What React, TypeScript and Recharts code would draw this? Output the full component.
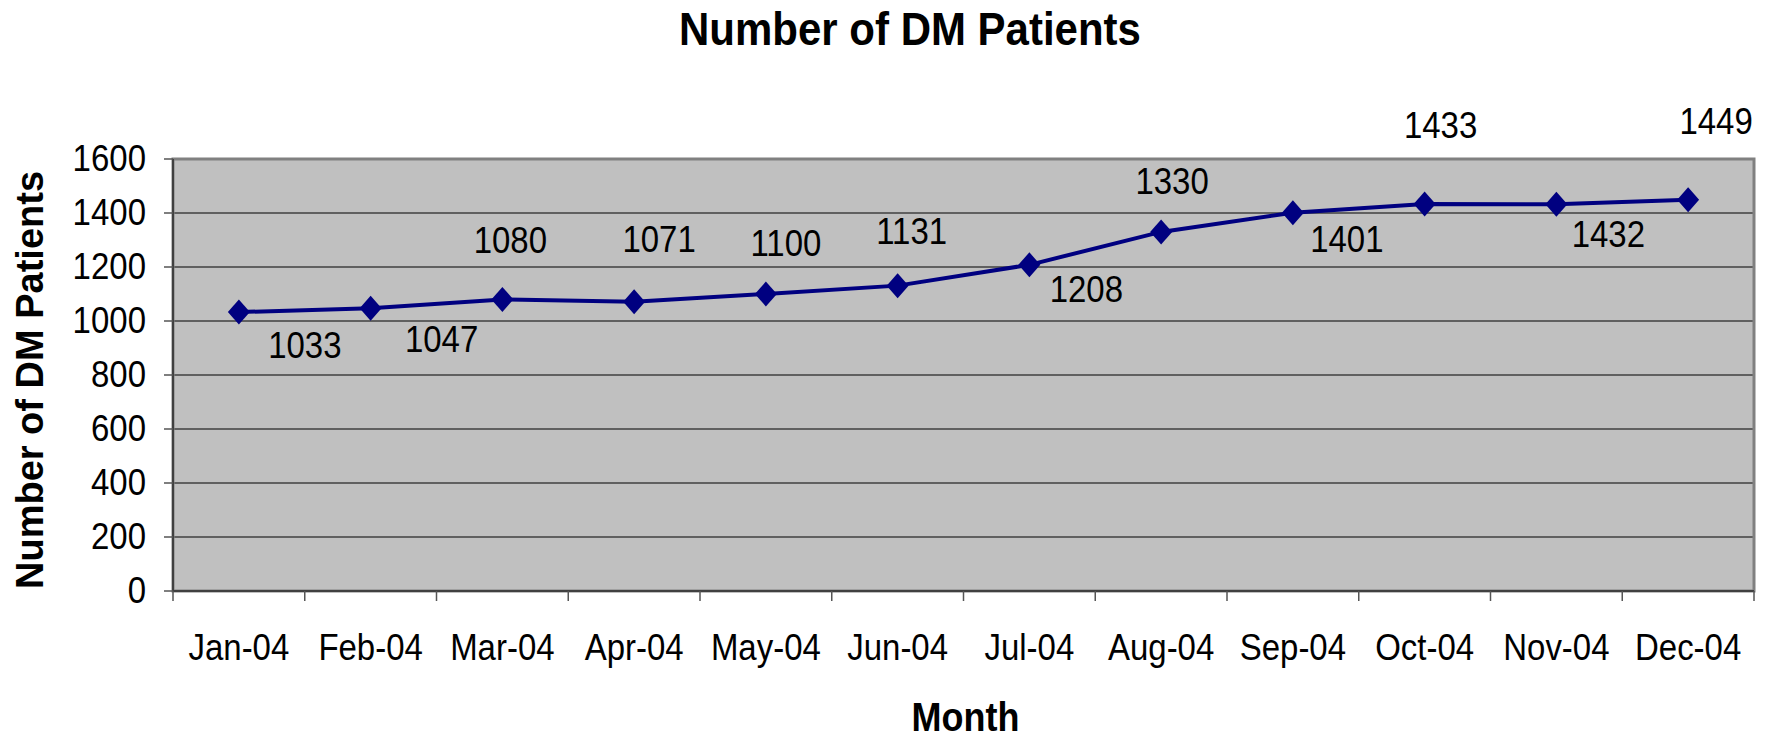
import { LineChart, Line, XAxis, YAxis, CartesianGrid, ReferenceArea, LabelList, Label } from "recharts";

const months = ["Jan-04", "Feb-04", "Mar-04", "Apr-04", "May-04", "Jun-04", "Jul-04", "Aug-04", "Sep-04", "Oct-04", "Nov-04", "Dec-04"];
const patients = [1033, 1047, 1080, 1071, 1100, 1131, 1208, 1330, 1401, 1433, 1432, 1449];
const yTicks = [0, 200, 400, 600, 800, 1000, 1200, 1400, 1600];

const FONT = "'Liberation Sans', Arial, Helvetica, sans-serif";
const NAVY = "#000080";
const STRETCH = 1.12;

// where each value label sits relative to its point (Excel placed them by hand)
const labelNudge = [
  [66, 46], [71, 44], [8, -46], [25, -50], [20, -38], [14, -42],
  [57, 37], [11, -38], [54, 39], [16, -66], [52, 43], [28, -66],
];

const data = months.map((m, i) => ({ idx: i, month: m, value: patients[i] }));

const xTicks: number[] = [];
for (let i = 0; i <= months.length * 2; i++) xTicks.push(i / 2 - 0.5);

function StretchText({ x, y, size, bold, anchor, children }: any) {
  return (
    <text
      transform={`translate(${x},${y}) scale(1,${STRETCH})`}
      x={0}
      y={0}
      textAnchor={anchor || "middle"}
      fontFamily={FONT}
      fontSize={size}
      fontWeight={bold ? "bold" : "normal"}
      fill="#000"
    >
      {children}
    </text>
  );
}

function MonthTick({ x, y, payload }: any) {
  const v = payload.value;
  if (Number.isInteger(v)) {
    return (
      <StretchText x={x} y={y + 69} size={33}>
        {months[v]}
      </StretchText>
    );
  }
  return <line x1={x} x2={x} y1={y} y2={y + 10} stroke="#555" strokeWidth={1.5} />;
}

function CountTick({ x, y, payload }: any) {
  return (
    <g>
      <line x1={x - 9} x2={x} y1={y} y2={y} stroke="#555" strokeWidth={1.5} />
      <StretchText x={x - 27} y={y + 12} size={33} anchor="end">
        {payload.value}
      </StretchText>
    </g>
  );
}

function Diamond({ cx, cy }: any) {
  if (cx == null || cy == null) return null;
  return <polygon points={`${cx},${cy - 12.5} ${cx + 11},${cy} ${cx},${cy + 12.5} ${cx - 11},${cy}`} fill={NAVY} />;
}

function ValueLabel({ x, y, value, index }: any) {
  const [dx, dy] = labelNudge[index] || [0, -20];
  return (
    <StretchText x={x + dx} y={y + dy} size={33}>
      {value}
    </StretchText>
  );
}

export default function App() {
  return (
    <div style={{ position: "relative", width: 1774, height: 739 }}>
      <style>{`body{margin:0}`}</style>
      <LineChart width={1774} height={739} data={data} margin={{ top: 159, right: 20, left: 0, bottom: 0 }}>
        <CartesianGrid vertical={false} stroke="#000" strokeWidth={1} fill="#C0C0C0" fillOpacity={1} />
        <ReferenceArea x1={-0.5} x2={11.5} y1={0} y2={1600} fill="none" stroke="#808080" strokeWidth={3} ifOverflow="visible" />
        <XAxis
          dataKey="idx"
          type="number"
          domain={[-0.5, 11.5]}
          ticks={xTicks}
          interval={0}
          tick={<MonthTick />}
          tickLine={false}
          tickSize={0}
          tickMargin={0}
          height={148}
          stroke="#404040"
          strokeWidth={2}
          allowDataOverflow
        >
          <Label
            content={({ viewBox }: any) => (
              <StretchText x={viewBox.x + viewBox.width / 2 + 2} y={viewBox.y + 140} size={36} bold>
                Month
              </StretchText>
            )}
          />
        </XAxis>
        <YAxis
          domain={[0, 1600]}
          ticks={yTicks}
          interval={0}
          tick={<CountTick />}
          tickLine={false}
          tickSize={0}
          tickMargin={0}
          width={173}
          stroke="#404040"
          strokeWidth={2}
        >
          <Label
            content={({ viewBox }: any) => {
              const cx = viewBox.x + 30;
              const cy = viewBox.y + viewBox.height / 2 + 5;
              return (
                <text
                  transform={`translate(${cx},${cy}) rotate(-90)`}
                  textAnchor="middle"
                  dominantBaseline="central"
                  fontFamily={FONT}
                  fontSize={38}
                  fontWeight="bold"
                  fill="#000"
                >
                  Number of DM Patients
                </text>
              );
            }}
          />
        </YAxis>
        <Line
          type="linear"
          dataKey="value"
          stroke={NAVY}
          strokeWidth={4}
          dot={<Diamond />}
          activeDot={false}
          isAnimationActive={false}
        >
          <LabelList dataKey="value" content={<ValueLabel />} />
        </Line>
      </LineChart>
      <svg width={1774} height={80} style={{ position: "absolute", left: 0, top: 0, pointerEvents: "none" }}>
        <StretchText x={910} y={45} size={42} bold>
          Number of DM Patients
        </StretchText>
      </svg>
    </div>
  );
}
